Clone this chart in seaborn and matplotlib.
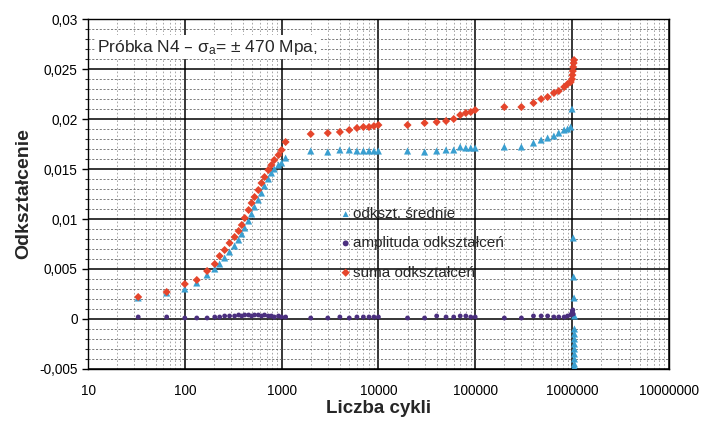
import numpy as np
import pandas as pd
import matplotlib
matplotlib.use("Agg")
import matplotlib.pyplot as plt
import seaborn as sns
from matplotlib.ticker import FuncFormatter, MultipleLocator, FixedLocator, NullFormatter

# ---- data ----
n_suma = [33, 65, 100, 133, 170, 204, 229, 258, 290, 327, 360, 388, 416, 456, 490, 525, 575,
          620, 666, 730, 785, 840, 930, 1000, 1100, 2000, 3000, 4000, 5000, 6000, 7000, 8000,
          9000, 10000, 20000, 30000, 40000, 50000, 60000, 70000, 80000, 90000, 100000, 200000,
          300000, 400000, 480000, 560000, 650000, 730000, 830000, 900000, 970000, 1000000,
          1010000, 1020000, 1030000, 1040000, 1050000]
v_suma = [0.0022, 0.0027, 0.0035, 0.0039, 0.0048, 0.0055, 0.0063, 0.0069, 0.0076, 0.0082,
          0.0088, 0.0094, 0.0101, 0.0109, 0.0116, 0.0122, 0.0129, 0.0136, 0.0142, 0.0149,
          0.0154, 0.0159, 0.0164, 0.0169, 0.0177, 0.0185, 0.0186, 0.0187, 0.0189, 0.0191,
          0.0192, 0.0192, 0.0193, 0.0194, 0.0194, 0.0196, 0.0197, 0.0198, 0.0200, 0.0204,
          0.0206, 0.0207, 0.0209, 0.0212, 0.0212, 0.0216, 0.0220, 0.0222, 0.0226, 0.0228,
          0.0232, 0.0235, 0.0237, 0.0240, 0.0244, 0.0248, 0.0252, 0.0256, 0.0259]

n_sred = [33, 65, 100, 133, 170, 204, 229, 258, 290, 327, 360, 388, 416, 456, 490, 525, 575,
          620, 666, 730, 785, 840, 930, 1000, 1100, 2000, 3000, 4000, 5000, 6000, 7000, 8000,
          9000, 10000, 20000, 30000, 40000, 50000, 60000, 70000, 80000, 90000, 100000, 200000,
          300000, 400000, 480000, 560000, 650000, 730000, 830000, 900000, 970000, 1000000,
          1030000, 1040000, 1050000, 1060000, 1060000, 1060000, 1060000, 1060000, 1060000,
          1060000, 1060000, 1060000, 1060000]
v_sred = [0.0021, 0.0026, 0.0030, 0.0036, 0.0044, 0.0050, 0.0055, 0.0061, 0.0067, 0.0073,
          0.0079, 0.0085, 0.0091, 0.0098, 0.0105, 0.0112, 0.0119, 0.0126, 0.0133, 0.0140,
          0.0146, 0.0150, 0.0154, 0.0156, 0.0161, 0.0168, 0.0167, 0.0169, 0.0169, 0.0168,
          0.0168, 0.0168, 0.0168, 0.0168, 0.0168, 0.0167, 0.0168, 0.0169, 0.0169, 0.0172,
          0.0171, 0.0171, 0.0171, 0.0172, 0.0172, 0.0176, 0.0179, 0.0181, 0.0183, 0.0186,
          0.0189, 0.0190, 0.0192, 0.0210, 0.0081, 0.0042, 0.0021, 0.0003, -0.0010, -0.0015,
          -0.0020, -0.0025, -0.0030, -0.0035, -0.0040, -0.0045, -0.0048]

n_ampl = [33, 65, 100, 133, 170, 204, 229, 258, 290, 327, 360, 388, 416, 456, 490, 525, 575,
          620, 666, 730, 785, 840, 930, 1000, 1100, 2000, 3000, 4000, 5000, 6000, 7000, 8000,
          9000, 10000, 20000, 30000, 40000, 50000, 60000, 70000, 80000, 90000, 100000, 200000,
          300000, 400000, 480000, 560000, 650000, 730000, 830000, 900000, 970000, 1000000,
          1010000, 1020000, 1030000]
v_ampl = [0.0002, 0.0002, 0.0001, 0.0001, 0.0001, 0.0002, 0.0002, 0.0003, 0.0003, 0.0003,
          0.0004, 0.0003, 0.0004, 0.0004, 0.0003, 0.0004, 0.0004, 0.0003, 0.0004, 0.0003,
          0.0003, 0.0002, 0.0003, 0.0002, 0.0002, 0.0001, 0.0001, 0.0002, 0.0001, 0.0002,
          0.0002, 0.0002, 0.0002, 0.0002, 0.0001, 0.0001, 0.0003, 0.0002, 0.0002, 0.0003,
          0.0003, 0.0002, 0.0002, 0.0001, 0.0001, 0.0003, 0.0003, 0.0003, 0.0002, 0.0002,
          0.0002, 0.0003, 0.0004, 0.0006, 0.0008, 0.0009, 0.0005]

x_ticks = [10, 100, 1000, 10000, 100000, 1000000, 10000000]

lab_sred = "odkszt. średnie"
lab_ampl = "amplituda odkształceń"
lab_suma = "suma odkształceń"

df_sred = pd.DataFrame({"N": n_sred, "v": v_sred})
df_ampl = pd.DataFrame({"N": n_ampl, "v": v_ampl})
df_suma = pd.DataFrame({"N": n_suma, "v": v_suma})

sns.set_style("white")
plt.rcParams["font.family"] = ["Liberation Sans", "DejaVu Sans"]

fig = plt.figure(figsize=(7.04, 4.23), dpi=100)
ax = fig.add_axes([0.125, 0.1277, 0.825, 0.8273])

sns.scatterplot(data=df_sred, x="N", y="v", ax=ax, marker="^", s=26, color="#3a9fd0",
                edgecolor="none", label=lab_sred, zorder=3)
sns.scatterplot(data=df_ampl, x="N", y="v", ax=ax, marker="o", s=12, color="#4b2f7f",
                edgecolor="none", label=lab_ampl, zorder=4)
sns.scatterplot(data=df_suma, x="N", y="v", ax=ax, marker="D", s=17, color="#e5452b",
                edgecolor="none", label=lab_suma, zorder=3)

ax.set_xscale("log")
ax.set_xlim(10, 1e7)
ax.set_ylim(-0.005, 0.03)
ax.yaxis.set_major_locator(MultipleLocator(0.005))
ax.yaxis.set_minor_locator(MultipleLocator(0.001))
ax.xaxis.set_major_locator(FixedLocator(x_ticks))
minor_x = [m * d for d in x_ticks[:-1] for m in range(2, 10)]
ax.xaxis.set_minor_locator(FixedLocator(minor_x))
ax.xaxis.set_minor_formatter(NullFormatter())
ax.yaxis.set_major_formatter(FuncFormatter(lambda v, p: ("%g" % round(v, 4)).replace(".", ",")))
ax.xaxis.set_major_formatter(FuncFormatter(lambda v, p: "%d" % round(v)))

ax.grid(which="major", color="black", lw=1.1)
ax.grid(which="minor", axis="y", color="#666666", ls=(0, (2.5, 2)), lw=0.6)
ax.grid(which="minor", axis="x", color="#999999", ls=(0, (2, 2.5)), lw=0.6)
ax.set_axisbelow(True)
for sp in ax.spines.values():
    sp.set_color("black")
    sp.set_linewidth(1.0)
ax.tick_params(axis="both", which="major", labelsize=9.8, length=4, width=1, direction="out",
               left=True, bottom=False, colors="black")
ax.tick_params(axis="y", which="minor", length=2.5, width=0.8, left=True)
ax.tick_params(axis="x", which="major", pad=7)

ax.set_xlabel("Liczba cykli", fontsize=13.5, fontweight="bold", labelpad=1)
ax.set_ylabel("Odkształcenie", fontsize=14, fontweight="bold", labelpad=5)

ax.text(0.016, 0.92, "Próbka N4 – $\\mathregular{\\sigma_a}$= ± 470 Mpa;", transform=ax.transAxes,
        fontsize=12.5, va="center", ha="left",
        bbox=dict(facecolor="white", edgecolor="none", pad=1.5), zorder=5)

leg = ax.legend(loc="upper left", bbox_to_anchor=(0.42, 0.48), frameon=False, fontsize=11,
                handletextpad=0.0, handlelength=1.0, labelspacing=1.0, borderaxespad=0)
for h in leg.legend_handles:
    h.set_sizes([18])

fig.savefig("out.png", dpi=100, facecolor="white")
